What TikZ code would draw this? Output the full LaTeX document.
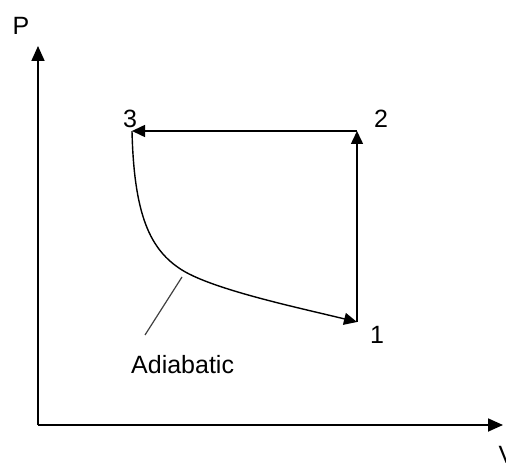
\documentclass[tikz,border=0pt]{standalone}
\usepackage{fontspec}
\setmainfont{Liberation Sans}
\usetikzlibrary{arrows.meta}
\begin{document}
\begin{tikzpicture}[x=1pt,y=-1pt,
  axis/.style={line width=1.8pt,-{Triangle[length=15pt,width=13pt]}},
  arr/.style={line width=1.5pt,-{Triangle[length=13pt,width=12pt]}},
  curv/.style={line width=1.4pt,-{Triangle[length=13pt,width=12pt]}},
  lbl/.style={inner sep=0pt,anchor=base,font=\fontsize{25}{30}\selectfont},
  pointer/.style={line width=1.2pt,draw=black!75}]
\useasboundingbox (0,0) rectangle (506,465);
\coordinate (O) at (38,425);
\coordinate (ytip) at (38,46);
\coordinate (xtip) at (503,425);
\coordinate (p1) at (357,322);
\coordinate (p2) at (357,131);
\coordinate (p3) at (132,131);
\coordinate (pa) at (182,277);
\coordinate (pb) at (145,335);
\draw[axis] (O) -- (ytip);
\draw[axis] (O) -- (xtip);
\draw[arr] (p1) -- (p2);
\draw[arr] (p2) -- (p3);
\draw[curv] (p3) .. controls (134,215) and (150,250) .. (182,270)
  .. controls (214,290) and (300,308) .. (p1);
\draw[pointer] (pa) -- (pb);
\node[lbl] (lP) at (21,35) {P};
\node[lbl] (lV) at (507,463) {V};
\node[lbl] (l3) at (130,128) {3};
\node[lbl] (l2) at (381,128) {2};
\node[lbl] (l1) at (377,343) {1};
\node[lbl,anchor=base west] (lad) at (131,373) {Adiabatic};
\end{tikzpicture}
\end{document}
